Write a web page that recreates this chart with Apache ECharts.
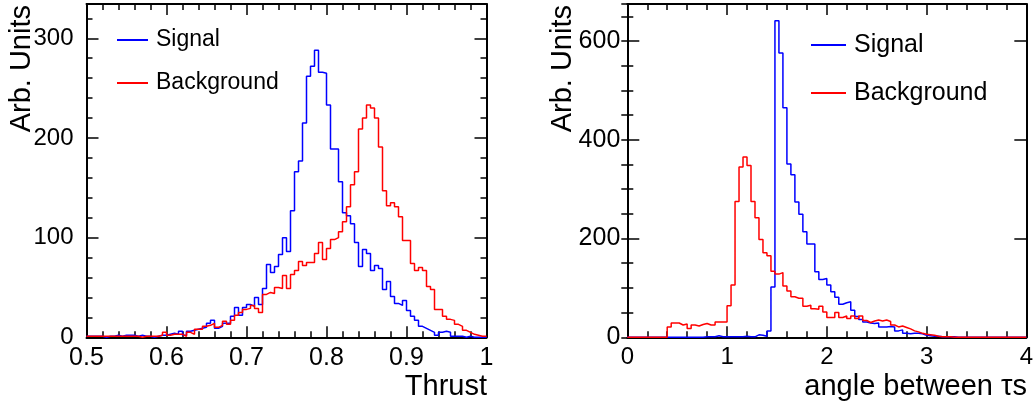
<!DOCTYPE html>
<html>
<head>
<meta charset="utf-8">
<script src="https://cdn.jsdelivr.net/npm/echarts@6/dist/echarts.min.js"></script>
<style>
html,body{margin:0;padding:0;background:#ffffff;}
#chart{width:1036px;height:408px;}
</style>
</head>
<body>
<div id="chart"></div>
<script>
// ---------------- data ----------------
const thrustMin = 0.5, thrustMax = 1.0;
const angleMin = 0, angleMax = 4;

const thrustSignal = [
  1,1,1,1,0,1,1,2,1,2,
  2,2,1,2,1,1,0,1,2,2,
  3,4,3,6,2,6,7,8,9,10,
  14,17,9,11,14,14,21,30,22,30,
  33,31,40,33,49,73,65,71,83,100,
  86,127,166,177,215,262,272,288,266,265,
  233,189,189,156,125,122,114,95,71,88,
  84,67,72,69,48,56,41,34,32,37,
  27,21,17,11,9,7,5,2,5,6,
  5,1,1,1,0,1,0,0,0,0
];
const thrustBackground = [
  1,1,1,1,1,1,1,1,1,1,
  1,1,1,0,1,1,1,1,2,5,
  2,3,3,3,1,5,3,8,8,11,
  12,14,10,12,16,13,17,22,25,28,
  29,32,29,25,43,45,44,50,49,62,
  49,63,67,76,72,75,75,84,95,78,
  89,98,100,106,116,131,153,166,209,220,
  233,230,220,191,147,132,135,131,121,97,
  97,74,67,70,67,51,48,28,28,21,
  18,17,13,11,7,5,3,2,1,1
];
const angleSignal = [
  0,0,0,0,0,0,0,0,0,0,
  0,0,0,0,0,0,0,0,0,1,
  1,1,3,1,1,1,1,1,1,2,
  1,1,5,4,2,13,102,641,576,465,
  351,329,274,249,214,189,189,133,117,119,
  106,92,81,67,70,72,55,42,36,31,
  29,28,29,21,21,22,21,13,15,8,
  7,8,8,7,4,3,2,2,1,1,
  1,1,0,0,0,0,0,0,0,0,
  0,0,0,0,0,0,0,0,0,0
];
const angleBackground = [
  0,0,0,0,0,0,0,0,0,0,
  21,29,29,25,27,18,25,23,26,28,
  25,25,31,31,31,64,106,275,345,365,
  348,275,242,198,171,165,134,128,131,104,
  94,82,79,79,63,65,58,57,63,51,
  40,40,50,40,43,38,43,38,43,34,
  30,33,35,33,35,32,25,21,23,20,
  17,13,11,8,6,5,4,2,1,1,
  1,0,0,0,0,0,0,0,0,0,
  0,0,0,0,0,0,0,0,0,0
];

const thrustTickValues = [0.5, 0.6, 0.7, 0.8, 0.9, 1.0];
const thrustTickLabels = ['0.5', '0.6', '0.7', '0.8', '0.9', '1'];
const angleTickValues = [0, 1, 2, 3, 4];
const angleTickLabels = ['0', '1', '2', '3', '4'];
const thrustCountTickValues = [0, 100, 200, 300];
const thrustCountTickLabels = ['0', '100', '200', '300'];
const angleCountTickValues = [0, 200, 400, 600];
const angleCountTickLabels = ['0', '200', '400', '600'];

const seriesNames = ['Signal', 'Background'];
const xTitles = ['Thrust', 'angle between \u03c4s'];
const yTitle = 'Arb. Units';

// ---------------- helpers ----------------
const FONT = "'Liberation Sans', Arial, Helvetica, sans-serif";
function histPoints(vals, lo, hi) {
  const w = (hi - lo) / vals.length;
  const pts = vals.map((v, i) => [lo + i * w, v]);
  pts.push([hi, vals[vals.length - 1]]);
  return pts;
}
function fmt(values, labels) {
  return function (v) {
    for (let i = 0; i < values.length; i++) {
      if (Math.abs(values[i] - v) < 1e-6) return labels[i];
    }
    return '';
  };
}
const black = '#000000';
function xPair(g, min, max, interval, minorSplit, tv, tl, fs) {
  const base = {
    type: 'value', gridIndex: g, min: min, max: max, interval: interval,
    axisLine: { show: true, onZero: false, lineStyle: { color: black, width: 2 } },
    axisTick: { show: true, inside: true, length: 11, lineStyle: { color: black, width: 1.5 } },
    minorTick: { show: true, splitNumber: minorSplit, length: 6, lineStyle: { color: black, width: 1.5 } },
    splitLine: { show: false }, minorSplitLine: { show: false }
  };
  return [
    Object.assign({}, base, { position: 'bottom',
      axisLabel: { show: true, margin: 8, color: black, fontSize: fs, fontFamily: FONT, formatter: fmt(tv, tl) } }),
    Object.assign({}, base, { position: 'top', axisLabel: { show: false } })
  ];
}
function yQuad(g, max, major, minor, tv, tl, fs, margin) {
  const common = { type: 'value', gridIndex: g, min: 0, max: max, splitLine: { show: false } };
  return [
    Object.assign({}, common, { position: 'left', interval: major,
      axisLine: { show: true, onZero: false, lineStyle: { color: black, width: 2 } },
      axisTick: { show: true, inside: true, length: 12, lineStyle: { color: black, width: 1.5 } },
      axisLabel: { show: true, margin: margin, color: black, fontSize: fs, fontFamily: FONT, formatter: fmt(tv, tl) } }),
    Object.assign({}, common, { position: 'left', interval: minor,
      axisLine: { show: false },
      axisTick: { show: true, inside: true, length: 6, lineStyle: { color: black, width: 1.5 } },
      axisLabel: { show: false } }),
    Object.assign({}, common, { position: 'right', interval: major,
      axisLine: { show: true, onZero: false, lineStyle: { color: black, width: 2 } },
      axisTick: { show: true, inside: true, length: 12, lineStyle: { color: black, width: 1.5 } },
      axisLabel: { show: false } }),
    Object.assign({}, common, { position: 'right', interval: minor,
      axisLine: { show: false },
      axisTick: { show: true, inside: true, length: 6, lineStyle: { color: black, width: 1.5 } },
      axisLabel: { show: false } })
  ];
}
function hist(name, vals, lo, hi, color, xi, yi) {
  return {
    type: 'line', name: name, xAxisIndex: xi, yAxisIndex: yi,
    data: histPoints(vals, lo, hi), step: 'end', symbol: 'none', showSymbol: false,
    clip: false, color: color, lineStyle: { color: color, width: 1.5 }, z: 5
  };
}

const chart = echarts.init(document.getElementById('chart'), null, { renderer: 'canvas' });
chart.setOption({
  backgroundColor: '#ffffff',
  animation: false,
  grid: [
    { left: 86.5, top: 4, width: 400, height: 333.3 },
    { left: 627.3, top: 4, width: 400, height: 333.3 }
  ],
  xAxis: [].concat(
    xPair(0, thrustMin, thrustMax, 0.1, 5, thrustTickValues, thrustTickLabels, 25),
    xPair(1, angleMin, angleMax, 1, 5, angleTickValues, angleTickLabels, 24)
  ),
  yAxis: [].concat(
    yQuad(0, 334.4, 100, 20, thrustCountTickValues, thrustCountTickLabels, 24, 13),
    yQuad(1, 675, 200, 50, angleCountTickValues, angleCountTickLabels, 25, 7)
  ),
  legend: [
    { left: 117, top: 27, orient: 'vertical', icon: 'rect', itemWidth: 31, itemHeight: 2, itemGap: 17,
      padding: 0, selectedMode: false, data: seriesNames,
      textStyle: { fontSize: 23, fontFamily: FONT, color: black, lineHeight: 26, padding: [0, 0, 0, 3] } },
    { left: 811, top: 31, orient: 'vertical', icon: 'rect', itemWidth: 35, itemHeight: 2, itemGap: 20,
      padding: 0, selectedMode: false, data: seriesNames,
      textStyle: { fontSize: 25, fontFamily: FONT, color: black, lineHeight: 28, padding: [0, 0, 0, 3] } }
  ],
  graphic: [
    { type: 'text', x: 21.5, y: 5, rotation: Math.PI / 2,
      style: { text: yTitle, fontSize: 29, fontFamily: FONT, fill: black, align: 'right', verticalAlign: 'middle' } },
    { type: 'text', x: 562.5, y: 5, rotation: Math.PI / 2,
      style: { text: yTitle, fontSize: 29, fontFamily: FONT, fill: black, align: 'right', verticalAlign: 'middle' } },
    { type: 'text', x: 487, y: 387,
      style: { text: xTitles[0], fontSize: 29, fontFamily: FONT, fill: black, align: 'right', verticalAlign: 'middle' } },
    { type: 'text', x: 1027, y: 387,
      style: { text: xTitles[1], fontSize: 29, fontFamily: FONT, fill: black, align: 'right', verticalAlign: 'middle' } }
  ],
  series: [
    hist(seriesNames[0], thrustSignal, thrustMin, thrustMax, '#0000ff', 0, 0),
    hist(seriesNames[1], thrustBackground, thrustMin, thrustMax, '#ff0000', 0, 0),
    hist(seriesNames[0], angleSignal, angleMin, angleMax, '#0000ff', 2, 4),
    hist(seriesNames[1], angleBackground, angleMin, angleMax, '#ff0000', 2, 4)
  ]
});
</script>
</body>
</html>
